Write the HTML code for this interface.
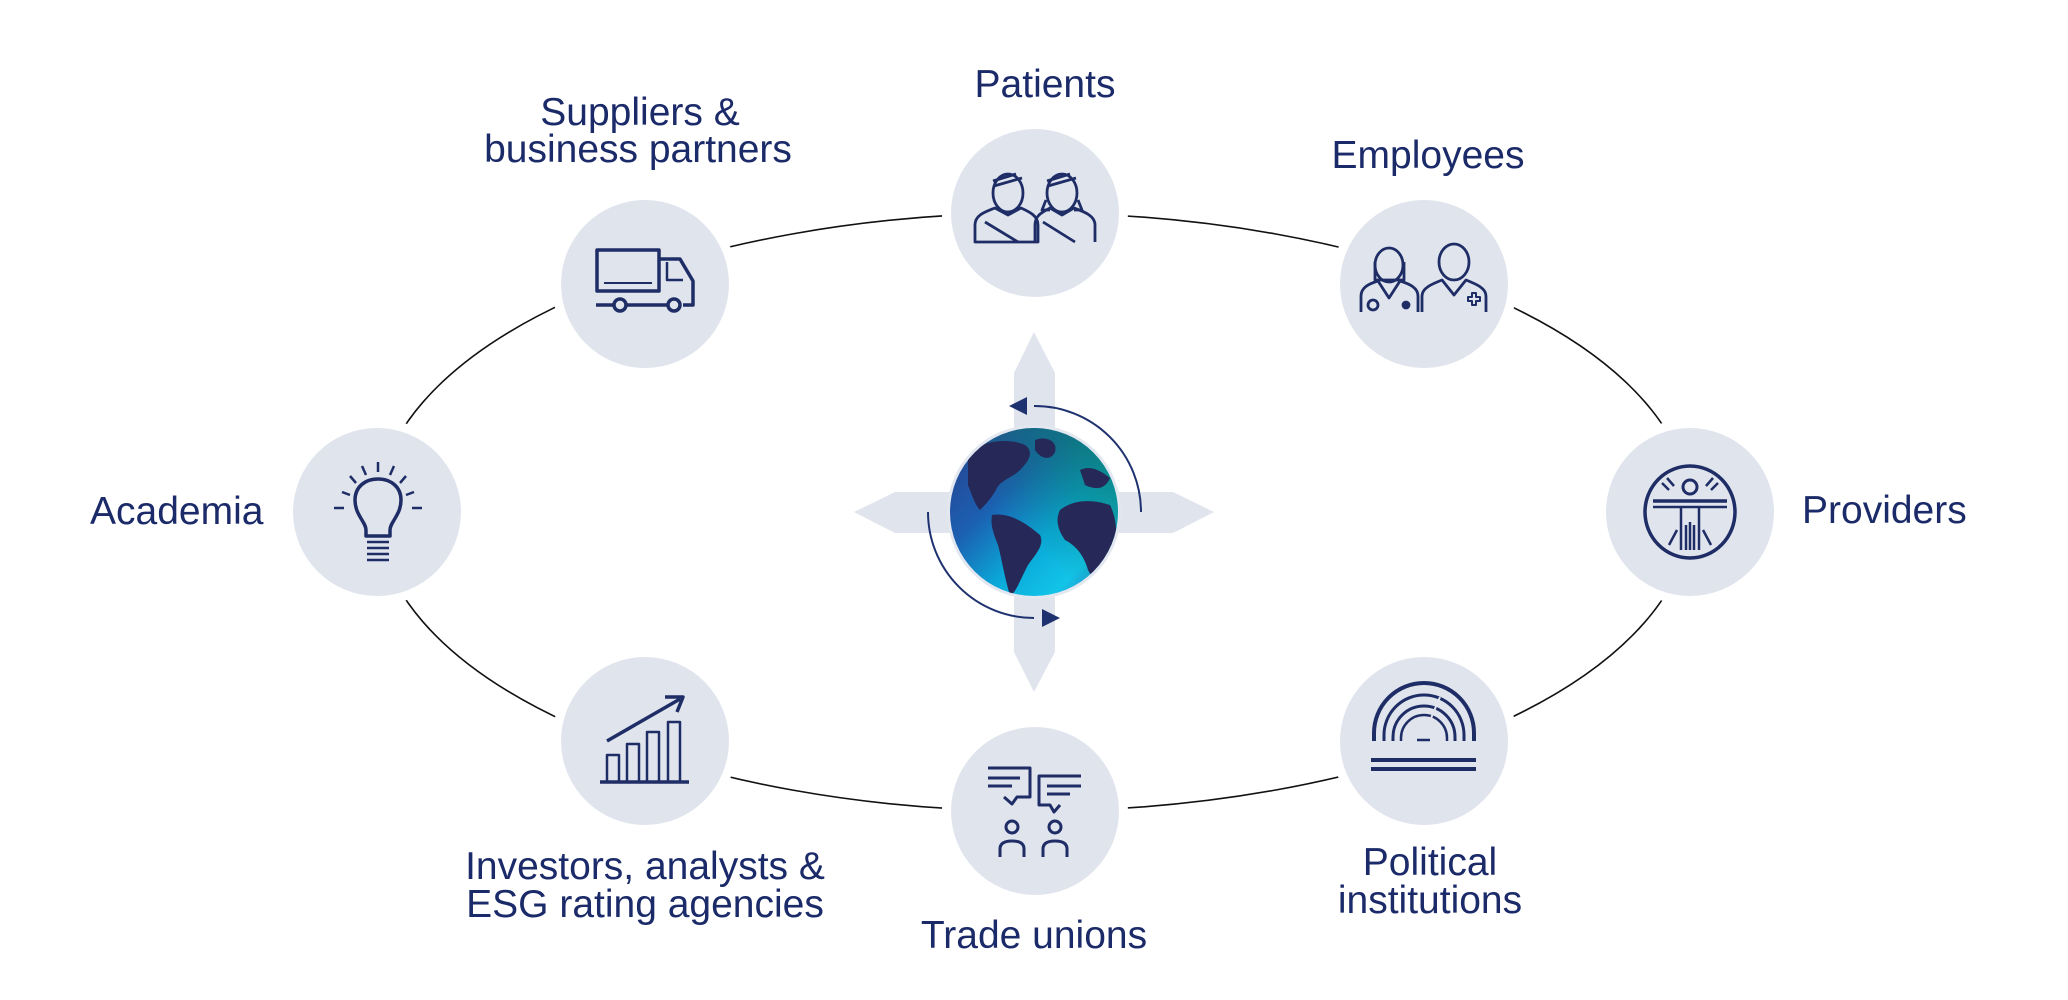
<!DOCTYPE html>
<html><head><meta charset="utf-8"><style>
html,body{margin:0;padding:0;background:#fff;}
svg{display:block;}
text{font-family:"Liberation Sans",sans-serif;fill:#1b2a68;font-size:39px;}
</style></head><body>
<svg width="2068" height="1000" viewBox="0 0 2068 1000" xmlns="http://www.w3.org/2000/svg">
<defs>
<linearGradient id="g" x1="0" y1="0" x2="1" y2="1">
<stop offset="0" stop-color="#2a3f8c"/>
<stop offset="0.35" stop-color="#1c5fb0"/>
<stop offset="0.6" stop-color="#0aa8d8"/>
<stop offset="0.8" stop-color="#12c4e8"/>
<stop offset="1" stop-color="#3a70c0"/>
</linearGradient>
<linearGradient id="g2" x1="1" y1="0" x2="0.4" y2="0.6">
<stop offset="0" stop-color="#0a7a6a" stop-opacity="0.9"/>
<stop offset="1" stop-color="#0a7a6a" stop-opacity="0"/>
</linearGradient>
<clipPath id="gc"><circle cx="1034" cy="512" r="84"/></clipPath>
</defs>

<ellipse cx="1034" cy="512" rx="657" ry="299" fill="none" stroke="#111" stroke-width="1.6"/>
<g fill="#fff">
<circle cx="1035" cy="213" r="93"/><circle cx="645" cy="284" r="93"/><circle cx="1424" cy="284" r="93"/>
<circle cx="377" cy="512" r="93"/><circle cx="1690" cy="512" r="93"/>
<circle cx="645" cy="741" r="93"/><circle cx="1035" cy="811" r="93"/><circle cx="1424" cy="741" r="93"/>
</g>
<g fill="#e0e4ed">
<circle cx="1035" cy="213" r="84"/><circle cx="645" cy="284" r="84"/><circle cx="1424" cy="284" r="84"/>
<circle cx="377" cy="512" r="84"/><circle cx="1690" cy="512" r="84"/>
<circle cx="645" cy="741" r="84"/><circle cx="1035" cy="811" r="84"/><circle cx="1424" cy="741" r="84"/>
</g>

<g fill="#e0e4ed">
<polygon points="1034,332 1055,373 1055,652 1034,692 1014,652 1014,373"/>
<polygon points="854,512 895,492 1173,492 1214,512 1173,533 895,533"/>
</g>
<circle cx="1034" cy="512" r="87" fill="#e3e7f0"/>
<circle cx="1034" cy="512" r="84" fill="url(#g)"/>
<circle cx="1034" cy="512" r="84" fill="url(#g2)"/>
<g clip-path="url(#gc)" fill="#262857">
<path d="M968,452 C985,440 1010,438 1025,445 C1035,452 1028,462 1020,470 C1012,478 1000,480 996,490 C990,500 985,505 980,510 C975,505 972,495 968,485 Z"/>
<path d="M1035,440 C1045,436 1058,440 1055,452 C1050,462 1040,458 1035,450 Z"/>
<path d="M992,515 C1008,512 1025,522 1040,535 C1045,545 1035,555 1028,565 C1020,580 1015,595 1010,595 C1005,580 1002,560 998,545 C994,535 990,525 992,515 Z"/>
<path d="M1060,510 C1075,498 1095,500 1110,505 C1118,520 1118,545 1112,560 C1105,575 1095,585 1088,570 C1084,555 1075,545 1065,540 C1058,530 1055,520 1060,510 Z"/>
<path d="M1080,470 C1090,465 1100,470 1110,478 C1105,490 1095,490 1085,485 Z"/>
</g>
<g fill="none" stroke="#1f3270" stroke-width="2">
<path d="M1034,406 A106,106 0 0 1 1141,512"/>
<path d="M928,512 A106,106 0 0 0 1034,618"/>
</g>
<g fill="#1f3270">
<polygon points="1009,406 1027,397 1027,415"/>
<polygon points="1060,618 1042,609 1042,627"/>
</g>

<g fill="none" stroke="#1f2d66" stroke-width="3.5" stroke-linejoin="round">
<rect x="597" y="250" width="62" height="41"/>
<line x1="604" y1="283" x2="652" y2="283" stroke-width="2"/>
<path d="M659,259 H680 L693,281 V305 H683"/>
<path d="M667,262 V280 H683" stroke-width="2.5"/>
<line x1="596" y1="305" x2="614" y2="305"/><line x1="626" y1="305" x2="668" y2="305"/>
<circle cx="620" cy="305" r="6"/><circle cx="674" cy="305" r="6"/>
<g stroke-width="2.8">
<ellipse cx="1008" cy="193" rx="15" ry="19"/><path d="M994,186 L1022,178 M993,181 L1016,174"/>
<path d="M975,242 V225 C975,215 985,212 995,208 L1008,215 L1021,208 C1030,212 1038,216 1038,225 V242 Z"/>
<line x1="985" y1="222" x2="1018" y2="242"/>
<ellipse cx="1062" cy="193" rx="15" ry="19"/><path d="M1048,186 L1076,178 M1047,181 L1070,174"/>
<path d="M1046,200 L1042,210 H1050 M1078,200 L1082,210 H1074"/>
<path d="M1035,242 V225 C1035,215 1043,212 1050,208 L1062,215 L1074,208 C1085,212 1095,216 1095,225 V242"/>
<line x1="1043" y1="222" x2="1075" y2="242"/>
</g>
<g stroke-width="2.8">
<ellipse cx="1389" cy="265" rx="14" ry="17"/>
<path d="M1375,262 V280 H1404 V262"/>
<path d="M1361,312 V296 C1361,288 1368,284 1378,281 L1389,298 L1400,281 C1410,284 1418,288 1418,296 V312"/>
<circle cx="1373" cy="305" r="5"/><circle cx="1406" cy="305" r="3" fill="#1f2d66"/>
<ellipse cx="1454" cy="262" rx="15" ry="18"/>
<path d="M1422,312 V296 C1422,288 1432,284 1442,280 L1454,295 L1466,280 C1476,284 1486,288 1486,296 V312"/>
<path d="M1468,297 h4 v-4 h4 v4 h4 v4 h-4 v4 h-4 v-4 h-4 z" stroke-width="2"/>
</g>
<ellipse cx="1690" cy="512" rx="45" ry="46"/>
<circle cx="1690" cy="487" r="7" stroke-width="3"/>
<line x1="1653" y1="501" x2="1727" y2="501"/>
<g stroke-width="2.5">
<line x1="1653" y1="507" x2="1727" y2="507"/>
<line x1="1681" y1="507" x2="1681" y2="550"/><line x1="1699" y1="507" x2="1699" y2="550"/>
<line x1="1686" y1="525" x2="1686" y2="550"/><line x1="1690" y1="522" x2="1690" y2="550"/><line x1="1694" y1="525" x2="1694" y2="550"/>
<line x1="1662" y1="483" x2="1669" y2="490"/><line x1="1667" y1="478" x2="1674" y2="486"/>
<line x1="1718" y1="483" x2="1711" y2="490"/><line x1="1713" y1="478" x2="1706" y2="486"/>
<line x1="1669" y1="545" x2="1677" y2="530"/><line x1="1711" y1="545" x2="1703" y2="530"/>
</g>
<path d="M366,536 V530 C366,522 355,515 355,500 C355,487 365,479 378,479 C391,479 401,487 401,500 C401,515 390,522 390,530 V536 Z"/>
<g stroke-width="2.5">
<line x1="367" y1="542" x2="389" y2="542"/><line x1="367" y1="548" x2="389" y2="548"/>
<line x1="367" y1="554" x2="389" y2="554"/><line x1="367" y1="560" x2="389" y2="560"/>
<line x1="378" y1="462" x2="378" y2="472"/>
<line x1="362" y1="466" x2="366" y2="475"/><line x1="394" y1="466" x2="390" y2="475"/>
<line x1="350" y1="476" x2="356" y2="483"/><line x1="406" y1="476" x2="400" y2="483"/>
<line x1="342" y1="492" x2="350" y2="495"/><line x1="414" y1="492" x2="406" y2="495"/>
<line x1="334" y1="508" x2="344" y2="508"/><line x1="412" y1="508" x2="422" y2="508"/>
</g>
<g stroke-width="2.5">
<rect x="607" y="755" width="12" height="27"/><rect x="627" y="744" width="12" height="38"/>
<rect x="647" y="732" width="12" height="50"/><rect x="668" y="722" width="12" height="60"/>
</g>
<line x1="600" y1="782" x2="689" y2="782"/>
<line x1="607" y1="741" x2="680" y2="699"/>
<polyline points="665,697 683,697 677,712"/>
<g stroke-width="3">
<path d="M988,768 H1030 V797 H1017 L1012,804 L1004,797"/>
<line x1="988" y1="778" x2="1020" y2="778"/><line x1="988" y1="786" x2="1012" y2="786"/>
<path d="M1081,776 H1039 V805 H1050 L1054,812 L1060,805"/>
<line x1="1047" y1="786" x2="1081" y2="786"/><line x1="1047" y1="794" x2="1070" y2="794"/>
<circle cx="1012" cy="827" r="6"/><circle cx="1055" cy="827" r="6"/>
<path d="M1000,857 V849 C1000,843 1005,841 1012,841 C1019,841 1024,843 1024,849 V857"/>
<path d="M1043,857 V849 C1043,843 1048,841 1055,841 C1062,841 1067,843 1067,849 V857"/>
</g>
<g stroke-width="4">
<path d="M1374,741 V733 A50,50 0 0 1 1474,733 V741"/>
<path d="M1384,741 V735 A40,40 0 0 1 1464,735 V741" stroke-width="3"/>
<path d="M1393,741 V737 A31,31 0 0 1 1455,737 V741" stroke-width="3"/>
<path d="M1401,741 V738 A23,23 0 0 1 1447,738 V741" stroke-width="2.5"/>
<line x1="1417" y1="740" x2="1430" y2="740" stroke-width="2.5"/>
<line x1="1371" y1="760" x2="1476" y2="760"/><line x1="1371" y1="769" x2="1476" y2="769"/>
</g>
<line x1="1440" y1="697" x2="1426" y2="730" stroke="#e0e4ed" stroke-width="2"/>
</g>

<g text-anchor="middle">
<text x="1045" y="97">Patients</text>
<text x="640" y="125">Suppliers &amp;</text>
<text x="638" y="162">business partners</text>
<text x="1428" y="168">Employees</text>
<text x="645" y="879">Investors, analysts &amp;</text>
<text x="645" y="917">ESG rating agencies</text>
<text x="1034" y="948">Trade unions</text>
<text x="1430" y="875">Political</text>
<text x="1430" y="913">institutions</text>
</g>
<text x="90" y="524">Academia</text>
<text x="1802" y="523">Providers</text>
</svg>
</body></html>
